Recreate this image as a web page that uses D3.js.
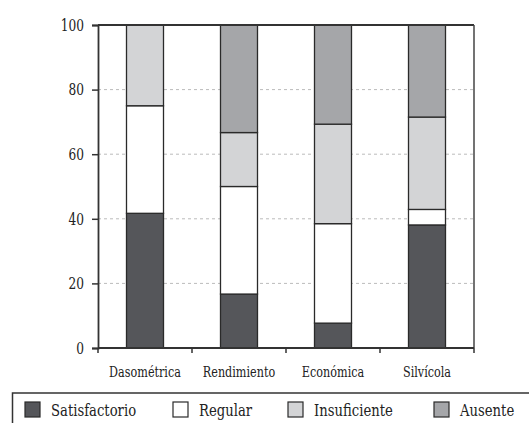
<!DOCTYPE html>
<html><head><meta charset="utf-8">
<script src="https://cdn.jsdelivr.net/npm/d3@7"></script>
<style>body{margin:0;background:#fff}svg{display:block}</style>
</head><body><svg id="c" width="529" height="423"></svg>
<script>
const categories = ["Dasométrica","Rendimiento","Económica","Silvícola"];
const seriesNames = ["Satisfactorio","Regular","Insuficiente","Ausente"];
const satisfactorio = [41.7, 16.7, 7.7, 38.1];
const regular = [33.3, 33.3, 30.8, 4.8];
const insuficiente = [25.0, 16.7, 30.8, 28.6];
const ausente = [0, 33.3, 30.8, 28.5];
const yTicks = [0, 20, 40, 60, 80, 100];
const colors = ["#55565a", "#ffffff", "#d3d4d6", "#a5a6a9"];
const FONT = "'DejaVu Serif', serif";

const seriesVals = [satisfactorio, regular, insuficiente, ausente];
const table = categories.map((c, i) => {
  const o = {cat: c};
  seriesNames.forEach((s, j) => o[s] = seriesVals[j][i]);
  return o;
});
const stacked = d3.stack().keys(seriesNames)(table);

// compress glyphs horizontally to mimic the narrow Times face of the reference
function squeeze(sel, f) {
  sel.each(function () {
    const w = this.getComputedTextLength();
    d3.select(this).attr("textLength", w * f).attr("lengthAdjust", "spacingAndGlyphs");
  });
}

const svg = d3.select("#c");
const L = 98, R = 474, T = 25, B = 348;
const x = d3.scaleBand().domain(categories).range([L, R]);
const y = d3.scaleLinear().domain([0, 100]).range([B, T]);
const bw = 37;

svg.append("g").selectAll("line").data(yTicks.filter(v => v > 0 && v < 100)).join("line")
  .attr("x1", L).attr("x2", R).attr("y1", d => y(d)).attr("y2", d => y(d))
  .attr("stroke", "#bbb").attr("stroke-width", 1).attr("stroke-dasharray", "3,3");

svg.append("g").selectAll("g").data(stacked).join("g")
  .attr("fill", (d, i) => colors[i])
  .selectAll("rect").data(d => d).join("rect")
  .filter(d => d[1] - d[0] > 0)
  .attr("x", d => x(d.data.cat) + x.bandwidth() / 2 - bw / 2)
  .attr("width", bw)
  .attr("y", d => y(d[1]))
  .attr("height", d => y(d[0]) - y(d[1]))
  .attr("stroke", "#2a2a2a").attr("stroke-width", 1.3);

svg.append("line").attr("x1", L).attr("x2", R).attr("y1", T).attr("y2", T).attr("stroke", "#333").attr("stroke-width", 1.8);
svg.append("line").attr("x1", R).attr("x2", R).attr("y1", T).attr("y2", B).attr("stroke", "#444").attr("stroke-width", 1.5);

const yAxis = svg.append("g").attr("transform", `translate(${L},0)`)
  .call(d3.axisLeft(y).tickValues(yTicks).tickSize(6).tickPadding(8));
yAxis.attr("font-family", FONT).attr("font-size", 16);
yAxis.select(".domain").attr("stroke", "#333").attr("stroke-width", 1.8);
yAxis.selectAll(".tick line").attr("stroke", "#333").attr("stroke-width", 1.5);
yAxis.selectAll("text").style("font-family", FONT).attr("font-size", 16).attr("fill", "#222").attr("dy", "0.33em")
  .call(squeeze, 0.76);

const xAxis = svg.append("g").attr("transform", `translate(0,${B})`)
  .call(d3.axisBottom(x).tickSize(0).tickPadding(0));
xAxis.attr("font-family", FONT).attr("font-size", 14);
xAxis.select(".domain").remove();
xAxis.append("line").attr("x1", L).attr("x2", R).attr("stroke", "#333").attr("stroke-width", 1.8);
const bounds = [L].concat(categories.map(c => x(c) + x.bandwidth()));
xAxis.selectAll(".bt").data(bounds).join("line").attr("class", "bt")
  .attr("x1", d => d).attr("x2", d => d).attr("y1", 0).attr("y2", 5)
  .attr("stroke", "#333").attr("stroke-width", 1.5);
xAxis.selectAll(".tick text").style("font-family", FONT).attr("font-size", 14)
  .attr("fill", "#222").attr("y", 29).attr("dy", 0)
  .call(squeeze, 0.8);

const lg = svg.append("g").attr("font-family", FONT);
lg.append("rect").attr("x", 12.5).attr("y", 393).attr("width", 540).attr("height", 50)
  .attr("fill", "none").attr("stroke", "#333").attr("stroke-width", 1.5);
const lx = [25, 173, 288, 434];
const items = lg.selectAll("g.it").data(seriesNames).join("g").attr("class", "it")
  .attr("transform", (d, i) => `translate(${lx[i]},402)`);
items.append("rect").attr("width", 15).attr("height", 15)
  .attr("fill", (d, i) => colors[i]).attr("stroke", "#2a2a2a").attr("stroke-width", 1.2);
items.append("text").attr("x", 26).attr("y", 14)
  .style("font-family", FONT).attr("font-size", 16.5).attr("fill", "#222").text(d => d)
  .call(squeeze, 0.8);
</script></body></html>
